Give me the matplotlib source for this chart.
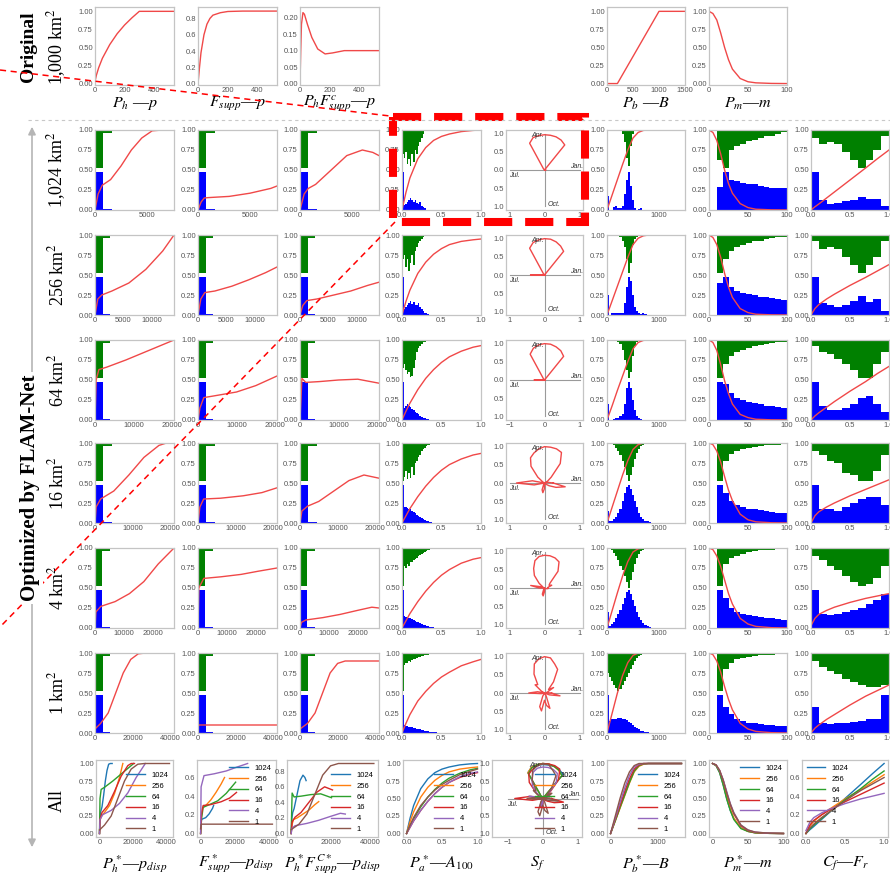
import numpy as np
import matplotlib.pyplot as plt
from matplotlib.patches import Rectangle
from matplotlib.ticker import FormatStrFormatter

plt.rcParams['mathtext.fontset'] = 'stix'
plt.rcParams['font.family'] = 'Liberation Sans'

W, H = 890, 875
fig = plt.figure(figsize=(W / 100, H / 100), dpi=100)

# ---------------- data ----------------
SCALES = ['1024', '256', '64', '16', '4', '1']
ROW_LABELS = ['1,024 km$^2$', '256 km$^2$', '64 km$^2$', '16 km$^2$', '4 km$^2$', '1 km$^2$']

# original functions (1,000 km2)
O_PH_X = [0, 10, 25, 50, 100, 150, 200, 250, 300, 535]
O_PH_Y = [0.03, 0.12, 0.22, 0.35, 0.54, 0.69, 0.81, 0.91, 1.0, 1.0]
O_FS_X = [0, 10, 20, 40, 60, 80, 100, 150, 200, 300, 530]
O_FS_Y = [0, 0.2, 0.38, 0.6, 0.73, 0.8, 0.84, 0.87, 0.885, 0.89, 0.89]
O_PF_X = [0, 5, 10, 20, 30, 50, 80, 120, 170, 220, 300, 535]
O_PF_Y = [0, 0.1, 0.18, 0.215, 0.21, 0.18, 0.14, 0.105, 0.09, 0.093, 0.1, 0.1]
O_PB_X = [0, 200, 1000, 1500]
O_PB_Y = [0, 0, 1.0, 1.0]
O_PM_Y = [1.0, 0.97, 0.88, 0.7, 0.5, 0.33, 0.2, 0.07, 0.025, 0.01, 0.002, 0]

# p_disp panels (columns 0-2)
PD_XMAX = [7600, 14000, 20500, 21000, 27500, 42000]
PD_TICKS = [[0, 5000], [0, 5000, 10000], [0, 10000, 20000], [0, 10000, 20000],
            [0, 10000, 20000], [0, 20000, 40000]]
PD_BIN = [800, 1350, 2000, 2200, 2600, 4000]
PD_BLUE = [0.47, 0.015, 0.004, 0, 0, 0, 0, 0, 0, 0]
PD_GREEN = [0.47, 0.035, 0, 0.008, 0, 0, 0.015, 0, 0, 0.01]

PH_X = [[0, 300, 700, 1500, 2500, 3500, 4500, 5500, 6500, 7600],
        [0, 500, 1200, 3000, 6000, 9000, 12000, 14000],
        [0, 300, 1000, 3000, 8000, 14000, 20500],
        [0, 300, 1500, 5000, 9000, 13000, 17000, 19000, 21000],
        [0, 300, 2000, 7000, 12000, 17000, 22000, 27500],
        [0, 3000, 7000, 11000, 15000, 19000, 23000, 27000, 42000]]
PH_Y = [[0, 0.2, 0.31, 0.38, 0.55, 0.75, 0.9, 0.99, 1.0, 1.0],
        [0, 0.2, 0.25, 0.3, 0.4, 0.57, 0.8, 1.0],
        [0, 0.5, 0.63, 0.66, 0.75, 0.87, 1.0],
        [0, 0.2, 0.3, 0.4, 0.6, 0.82, 0.97, 1.0, 1.0],
        [0, 0.2, 0.27, 0.33, 0.43, 0.58, 0.8, 1.0],
        [0.05, 0.12, 0.25, 0.5, 0.75, 0.92, 0.99, 1.0, 1.0]]
FS_X = [[0, 300, 600, 1000, 3000, 5000, 7000, 7600],
        [0, 500, 1200, 3000, 6000, 9000, 12000, 14000],
        [0, 500, 1500, 4000, 10000, 15000, 20500],
        [0, 500, 1500, 6000, 12000, 17000, 21000],
        [0, 300, 2000, 8000, 15000, 21000, 27500],
        [0, 300, 42000]]
FS_Y = [[0, 0.1, 0.15, 0.155, 0.17, 0.21, 0.27, 0.3],
        [0, 0.2, 0.28, 0.3, 0.36, 0.44, 0.53, 0.6],
        [0, 0.15, 0.28, 0.3, 0.35, 0.43, 0.55],
        [0, 0.2, 0.3, 0.31, 0.34, 0.38, 0.44],
        [0, 0.5, 0.62, 0.64, 0.67, 0.71, 0.75],
        [0.05, 0.1, 0.1]]
PF_X = [[0, 400, 800, 1500, 3000, 4500, 6000, 7000, 7600],
        [0, 500, 1200, 3000, 6000, 9000, 12000, 14000],
        [0, 500, 1500, 5000, 10000, 15000, 20500],
        [0, 500, 2000, 5000, 9000, 13000, 17000, 19000, 21000],
        [0, 500, 2000, 8000, 14000, 20000, 25000, 27500],
        [0, 4000, 8000, 12000, 16000, 20000, 24000, 42000]]
PF_Y = [[0, 0.2, 0.27, 0.32, 0.5, 0.68, 0.75, 0.72, 0.68],
        [0, 0.12, 0.18, 0.2, 0.25, 0.3, 0.37, 0.41],
        [0, 0.52, 0.47, 0.48, 0.5, 0.51, 0.46],
        [0, 0.15, 0.21, 0.27, 0.4, 0.53, 0.6, 0.58, 0.56],
        [0, 0.07, 0.1, 0.13, 0.17, 0.22, 0.26, 0.25],
        [0.05, 0.12, 0.25, 0.5, 0.75, 0.87, 0.9, 0.9]]

# P_a - A100 (column 3)
PA_X = [0, 0.05, 0.1, 0.2, 0.3, 0.4, 0.5, 0.6, 0.75, 0.9, 1.0]
PA_Y = [[0, 0.22, 0.4, 0.64, 0.78, 0.87, 0.92, 0.95, 0.98, 0.995, 1.0],
        [0, 0.17, 0.31, 0.52, 0.66, 0.76, 0.83, 0.88, 0.92, 0.94, 0.95],
        [0, 0.11, 0.21, 0.38, 0.52, 0.63, 0.72, 0.79, 0.86, 0.91, 0.93],
        [0, 0.09, 0.18, 0.33, 0.46, 0.57, 0.66, 0.73, 0.8, 0.85, 0.87],
        [0, 0.09, 0.18, 0.33, 0.46, 0.57, 0.66, 0.73, 0.81, 0.86, 0.88],
        [0, 0.12, 0.23, 0.4, 0.52, 0.62, 0.7, 0.76, 0.84, 0.89, 0.92]]
PA_BIN = 0.02
PA_BLUE = [[0.47, 0.06, 0.08, 0.1, 0.12, 0.15, 0.13, 0.1, 0.12, 0.09, 0.07, 0.1, 0.05, 0.04, 0.03],
           [0.47, 0.08, 0.1, 0.13, 0.15, 0.17, 0.14, 0.16, 0.12, 0.13, 0.15, 0.1, 0.08, 0.05, 0.03,
            0.02, 0.01],
           [0.47, 0.15, 0.17, 0.2, 0.18, 0.16, 0.14, 0.12, 0.1, 0.09, 0.07, 0.05, 0.04, 0.03, 0.02,
            0.015, 0.01],
           [0.47, 0.2, 0.2, 0.19, 0.18, 0.17, 0.15, 0.14, 0.12, 0.1, 0.09, 0.07, 0.06, 0.05, 0.04,
            0.03, 0.02, 0.015, 0.01, 0.005, 0.003, 0.002],
           [0.47, 0.15, 0.14, 0.13, 0.13, 0.12, 0.11, 0.1, 0.09, 0.08, 0.07, 0.06, 0.05, 0.04, 0.035,
            0.03, 0.02, 0.015, 0.01, 0.008, 0.005, 0.003, 0.002, 0.001],
           [0.47, 0.1, 0.09, 0.085, 0.08, 0.075, 0.07, 0.065, 0.06, 0.055, 0.05, 0.045, 0.04, 0.035,
            0.03, 0.025, 0.02, 0.018, 0.015, 0.012, 0.01, 0.008, 0.006, 0.005, 0.004, 0.003, 0.002]]
PA_GREEN = [[0.3, 0.35, 0.28, 0.42, 0.36, 0.45, 0.3, 0.4, 0.25, 0.3, 0.2, 0.15, 0.1, 0.05],
            [0.3, 0.25, 0.4, 0.3, 0.45, 0.35, 0.25, 0.38, 0.2, 0.15, 0.1, 0.08, 0.05, 0.03],
            [0.35, 0.3, 0.38, 0.42, 0.4, 0.46, 0.45, 0.35, 0.25, 0.15, 0.1, 0.08, 0.05, 0.03, 0.02],
            [0.47, 0.42, 0.35, 0.45, 0.38, 0.44, 0.3, 0.4, 0.25, 0.22, 0.18, 0.15, 0.1, 0.08, 0.06,
             0.04, 0.03, 0.02, 0.01],
            [0.47, 0.22, 0.25, 0.2, 0.22, 0.18, 0.17, 0.15, 0.14, 0.12, 0.1, 0.09, 0.07, 0.06, 0.05,
             0.04, 0.03, 0.02, 0.01, 0.005],
            [0.47, 0.15, 0.12, 0.13, 0.1, 0.11, 0.09, 0.08, 0.07, 0.06, 0.05, 0.045, 0.04, 0.035,
             0.03, 0.025, 0.02, 0.015, 0.01, 0.008, 0.006, 0.004, 0.003, 0.002]]

# S_f seasonality: radius every 10 degrees (Jan = 0 deg, Apr = 90 deg, counter-clockwise)
SF_R = [[0.03, 0, 0, 0, 0, 0.9, 0.95, 0.97, 0.97, 0.97, 0.96, 0.95, 0.85, 0.05, 0, 0, 0, 0,
         0, 0, 0, 0, 0, 0, 0, 0, 0, 0, 0, 0, 0, 0, 0, 0, 0, 0],
        [0.02, 0, 0, 0, 0, 0.85, 0.92, 0.97, 1.0, 1.0, 0.98, 0.95, 0.85, 0.05, 0, 0, 0, 0.05,
         0.4, 0.05, 0, 0, 0, 0, 0, 0, 0, 0, 0, 0, 0, 0, 0, 0, 0, 0],
        [0.02, 0, 0, 0, 0, 0.85, 0.93, 0.97, 1.0, 1.0, 0.98, 0.93, 0.82, 0.05, 0, 0, 0, 0.05,
         0.3, 0.05, 0, 0, 0, 0, 0, 0, 0, 0, 0, 0, 0, 0, 0, 0, 0, 0],
        [0.25, 0.1, 0, 0.1, 0.25, 0.7, 0.97, 1.0, 1.0, 1.0, 0.95, 0.88, 0.8, 0.6, 0.25, 0.05, 0, 0.35,
         0.8, 0.3, 0, 0, 0, 0, 0.05, 0.2, 0.27, 0.15, 0, 0, 0, 0, 0.05, 0.15, 0.35, 0.6],
        [0.1, 0.1, 0.22, 0.15, 0.2, 0.6, 0.83, 0.88, 0.9, 0.9, 0.88, 0.8, 0.62, 0.45, 0.2, 0.05, 0.1,
         0.4, 0.15, 0, 0, 0, 0, 0, 0.05, 0.18, 0.22, 0.1, 0, 0, 0, 0, 0, 0, 0.05, 0.1],
        [0.2, 0.05, 0.1, 0.3, 0.15, 0.4, 0.75, 0.85, 0.98, 1.0, 0.95, 0.85, 0.6, 0.3, 0.35, 0.1, 0,
         0.2, 0.45, 0.1, 0, 0, 0, 0, 0.1, 0.4, 0.5, 0.2, 0.35, 0.45, 0.1, 0, 0, 0, 0.15, 0.45]]

# P_b - B (column 5)
PB_X = [0, 100, 200, 300, 400, 500, 600, 700, 800, 1500]
PB_Y = [[0, 0.19, 0.38, 0.57, 0.75, 0.9, 0.97, 0.995, 1.0, 1.0],
        [0, 0.18, 0.36, 0.54, 0.72, 0.88, 0.96, 0.99, 1.0, 1.0],
        [0, 0.18, 0.37, 0.55, 0.73, 0.89, 0.97, 0.995, 1.0, 1.0],
        [0, 0.2, 0.4, 0.6, 0.78, 0.92, 0.98, 1.0, 1.0, 1.0],
        [0, 0.22, 0.44, 0.65, 0.83, 0.95, 0.99, 1.0, 1.0, 1.0],
        [0, 0.25, 0.5, 0.72, 0.88, 0.97, 1.0, 1.0, 1.0, 1.0]]
PB_BIN = 40
PB_BLUE = [[0.18, 0, 0, 0.04, 0.05, 0.03, 0.02, 0.05, 0.2, 0.38, 0.47, 0.3, 0.12, 0.03, 0, 0.01, 0.02],
           [0.25, 0, 0.02, 0.03, 0.02, 0.03, 0.02, 0.03, 0.15, 0.35, 0.47, 0.42, 0.25, 0.1, 0.05, 0.02,
            0.01, 0.02, 0.01],
           [0.2, 0, 0, 0.01, 0.02, 0.03, 0.05, 0.08, 0.2, 0.4, 0.47, 0.4, 0.25, 0.12, 0.05, 0.02, 0.01],
           [0.15, 0.02, 0.03, 0.05, 0.08, 0.12, 0.18, 0.27, 0.38, 0.45, 0.47, 0.42, 0.35, 0.27, 0.2, 0.13,
            0.08, 0.05, 0.03, 0.02, 0.01, 0.005],
           [0.2, 0.03, 0.05, 0.08, 0.12, 0.17, 0.23, 0.3, 0.38, 0.45, 0.47, 0.42, 0.35, 0.27, 0.2, 0.14,
            0.1, 0.06, 0.04, 0.02, 0.01],
           [0.47, 0.15, 0.17, 0.18, 0.18, 0.19, 0.19, 0.18, 0.17, 0.16, 0.14, 0.12, 0.1, 0.08, 0.06, 0.05,
            0.03, 0.02, 0.015, 0.01, 0.005]]
PB_GREEN = [[0, 0, 0, 0, 0, 0, 0, 0.05, 0.15, 0.35, 0.45, 0.2, 0.05],
            [0, 0, 0, 0, 0, 0, 0.03, 0.08, 0.15, 0.3, 0.48, 0.35, 0.12, 0.05, 0.02],
            [0, 0, 0, 0, 0, 0.02, 0.05, 0.12, 0.25, 0.38, 0.47, 0.4, 0.2, 0.08, 0.03, 0.01],
            [0, 0, 0.01, 0.03, 0.06, 0.1, 0.15, 0.22, 0.3, 0.4, 0.47, 0.4, 0.3, 0.2, 0.12, 0.07, 0.04,
             0.02, 0.01],
            [0, 0.01, 0.03, 0.06, 0.1, 0.15, 0.22, 0.28, 0.35, 0.42, 0.5, 0.4, 0.3, 0.2, 0.12, 0.07,
             0.04, 0.02, 0.01],
            [0.25, 0.3, 0.35, 0.4, 0.44, 0.47, 0.45, 0.4, 0.35, 0.3, 0.25, 0.2, 0.15, 0.1, 0.06, 0.04,
             0.02, 0.01]]

# P_m - m (column 6)
PM_X = [0, 5, 10, 15, 20, 25, 30, 40, 50, 60, 80, 100]
PM_Y = [[1.0, 0.97, 0.87, 0.7, 0.5, 0.33, 0.21, 0.08, 0.03, 0.01, 0.002, 0],
        [1.0, 0.97, 0.88, 0.72, 0.52, 0.35, 0.22, 0.08, 0.03, 0.01, 0.002, 0],
        [1.0, 0.97, 0.87, 0.69, 0.49, 0.33, 0.2, 0.07, 0.03, 0.01, 0.002, 0],
        [1.0, 0.98, 0.9, 0.76, 0.58, 0.41, 0.28, 0.11, 0.04, 0.015, 0.003, 0],
        [1.0, 0.98, 0.9, 0.77, 0.6, 0.43, 0.3, 0.12, 0.05, 0.02, 0.004, 0],
        [1.0, 0.98, 0.9, 0.76, 0.58, 0.42, 0.29, 0.12, 0.05, 0.02, 0.004, 0]]
PM_START, PM_BIN = 10, 7.5
PM_BLUE = [[0.29, 0.47, 0.38, 0.36, 0.34, 0.33, 0.32, 0.3, 0.29, 0.28, 0.28, 0.27],
           [0.4, 0.47, 0.35, 0.3, 0.28, 0.26, 0.25, 0.23, 0.22, 0.21, 0.2, 0.19],
           [0.47, 0.45, 0.34, 0.28, 0.25, 0.23, 0.21, 0.2, 0.18, 0.17, 0.16, 0.15],
           [0.47, 0.38, 0.27, 0.22, 0.2, 0.18, 0.17, 0.16, 0.15, 0.14, 0.13, 0.12],
           [0.47, 0.37, 0.25, 0.2, 0.18, 0.16, 0.15, 0.14, 0.13, 0.12, 0.11, 0.1],
           [0.47, 0.33, 0.24, 0.18, 0.15, 0.13, 0.12, 0.11, 0.1, 0.1, 0.09, 0.09]]
PM_GREEN = [[0.38, 0.47, 0.25, 0.2, 0.17, 0.14, 0.12, 0.1, 0.08, 0.07, 0.05, 0.03],
            [0.47, 0.3, 0.2, 0.15, 0.12, 0.1, 0.08, 0.07, 0.05, 0.04, 0.03, 0.02],
            [0.47, 0.3, 0.2, 0.15, 0.12, 0.1, 0.08, 0.06, 0.05, 0.04, 0.03, 0.02],
            [0.47, 0.22, 0.14, 0.1, 0.08, 0.06, 0.05, 0.04, 0.03, 0.02, 0.02, 0.01],
            [0.47, 0.2, 0.13, 0.1, 0.07, 0.05, 0.04, 0.03, 0.02, 0.02, 0.01, 0.01],
            [0.47, 0.2, 0.13, 0.08, 0.06, 0.05, 0.04, 0.03, 0.02, 0.02, 0.01, 0.01]]

# C_f - F_r (column 7)
CF_X = [0, 0.05, 0.1, 0.2, 0.3, 0.5, 0.7, 0.85, 1.0]
CF_Y = [[0, 0.04, 0.075, 0.15, 0.225, 0.375, 0.525, 0.64, 0.75],
        [0, 0.08, 0.13, 0.2, 0.26, 0.37, 0.47, 0.55, 0.63],
        [0, 0.05, 0.09, 0.16, 0.23, 0.36, 0.48, 0.58, 0.67],
        [0, 0.09, 0.14, 0.2, 0.25, 0.34, 0.42, 0.48, 0.54],
        [0.03, 0.12, 0.17, 0.22, 0.26, 0.32, 0.37, 0.4, 0.43],
        [0, 0.06, 0.1, 0.17, 0.23, 0.35, 0.46, 0.53, 0.6]]
CF_BIN = 0.1
CF_BLUE = [[0.47, 0.13, 0.08, 0.09, 0.11, 0.12, 0.16, 0.14, 0.14, 0.05],
           [0.47, 0.15, 0.13, 0.1, 0.13, 0.17, 0.24, 0.16, 0.2, 0.05],
           [0.47, 0.17, 0.13, 0.12, 0.15, 0.2, 0.27, 0.3, 0.2, 0.1],
           [0.47, 0.17, 0.17, 0.15, 0.2, 0.25, 0.3, 0.32, 0.33, 0.23],
           [0.47, 0.18, 0.16, 0.18, 0.2, 0.22, 0.25, 0.3, 0.35, 0.43],
           [0.33, 0.12, 0.11, 0.12, 0.13, 0.14, 0.15, 0.17, 0.18, 0.47]]
CF_GREEN = [[0.1, 0.18, 0.15, 0.18, 0.28, 0.38, 0.47, 0.38, 0.25, 0.08],
            [0.07, 0.18, 0.15, 0.18, 0.28, 0.38, 0.47, 0.38, 0.28, 0.07],
            [0.07, 0.15, 0.18, 0.24, 0.3, 0.38, 0.47, 0.47, 0.3, 0.15],
            [0.1, 0.15, 0.22, 0.25, 0.38, 0.4, 0.47, 0.47, 0.35, 0.15],
            [0.1, 0.15, 0.22, 0.27, 0.35, 0.42, 0.48, 0.45, 0.37, 0.22],
            [0.1, 0.17, 0.22, 0.26, 0.32, 0.36, 0.4, 0.43, 0.43, 0.4]]

# ---------------- layout / style ----------------
RED = '#f04848'
BLUE = '#0000ff'
GREEN = '#008000'
TAB = plt.cm.tab10.colors[:6]
Y4 = [0, 0.25, 0.5, 0.75, 1.0]

COL_X = [(95, 174), (198, 277), (300, 379), (402, 481), (506, 583), (607, 685), (709, 787), (811, 889)]
ALL_X = [(96, 173), (197, 276), (287, 378), (403, 481), (492, 582), (607, 685), (709, 787), (802, 888)]
ROW_Y = [(130, 210), (235, 315), (340, 420), (443, 523), (548, 628), (653, 733)]
ORIG_Y = (7, 85)
ALL_Y = (760, 837)


def new_ax(xr, yr):
    ax = fig.add_axes([xr[0] / W, 1 - yr[1] / H, (xr[1] - xr[0]) / W, (yr[1] - yr[0]) / H])
    for s in ax.spines.values():
        s.set_color('#c4c4c4')
        s.set_linewidth(0.9)
    ax.tick_params(length=0, labelsize=5.5, labelcolor='#555555', pad=1.5)
    return ax


def hist(ax, start, width, blue, green):
    ax.stairs(blue, start + width * np.arange(len(blue) + 1), baseline=0,
              fill=True, color=BLUE, lw=0)
    ax.stairs(1 - np.array(green), start + width * np.arange(len(green) + 1),
              baseline=1, fill=True, color=GREEN, lw=0)


def yfmt(ax, ticks, fmt):
    ax.set_yticks(ticks)
    ax.yaxis.set_major_formatter(FormatStrFormatter(fmt))


def sf_xy(r):
    a = np.deg2rad(np.arange(0, 370, 10))
    r = np.append(r, r[0])
    return r * np.cos(a), r * np.sin(a)


def sf_frame(ax, minus):
    ax.plot([-1, 1], [0, 0], color='#9a9a9a', lw=0.8, zorder=1)
    ax.plot([0, 0], [-1, 1], color='#9a9a9a', lw=0.8, zorder=1)
    kw = dict(fontsize=5, style='italic', color='#333333', zorder=5)
    ax.text(-0.38, 0.9, 'Apr.', **kw)
    ax.text(0.72, 0.06, 'Jan.', **kw)
    ax.text(-1.02, -0.2, 'Jul.', **kw)
    ax.text(0.08, -1.0, 'Oct.', **kw)
    ax.set_xlim(-1.1, 1.1)
    ax.set_ylim(-1.1, 1.1)
    ax.set_xticks([-1, 0, 1])
    ax.set_xticklabels(['\u22121' if minus else '1', '0', '1'])
    ax.set_yticks([-1, -0.5, 0, 0.5, 1])
    ax.set_yticklabels(['1.0', '0.5', '0.0', '0.5', '1.0'])


# ---------------- original row ----------------
ax = new_ax(COL_X[0], ORIG_Y)
ax.plot(O_PH_X, O_PH_Y, color=RED, lw=1)
ax.set_xlim(0, 535); ax.set_ylim(-0.02, 1.06)
ax.set_xticks([0, 200, 400]); yfmt(ax, Y4, '%.2f')

ax = new_ax(COL_X[1], ORIG_Y)
ax.plot(O_FS_X, O_FS_Y, color=RED, lw=1)
ax.set_xlim(0, 530); ax.set_ylim(-0.015, 0.94)
ax.set_xticks([0, 200, 400]); yfmt(ax, [0, 0.2, 0.4, 0.6, 0.8], '%.1f')

ax = new_ax(COL_X[2], ORIG_Y)
ax.plot(O_PF_X, O_PF_Y, color=RED, lw=1)
ax.set_xlim(0, 535); ax.set_ylim(-0.004, 0.232)
ax.set_xticks([0, 200, 400]); yfmt(ax, [0, 0.05, 0.1, 0.15, 0.2], '%.2f')

ax = new_ax(COL_X[5], ORIG_Y)
ax.plot(O_PB_X, O_PB_Y, color=RED, lw=1)
ax.set_xlim(0, 1500); ax.set_ylim(-0.02, 1.06)
ax.set_xticks([0, 500, 1000, 1500]); yfmt(ax, Y4, '%.2f')

ax = new_ax(COL_X[6], ORIG_Y)
ax.plot(PM_X, O_PM_Y, color=RED, lw=1)
ax.set_xlim(0, 100); ax.set_ylim(-0.02, 1.06)
ax.set_xticks([0, 50, 100]); yfmt(ax, Y4, '%.2f')

# ---------------- optimized rows ----------------
for i in range(6):
    yr = ROW_Y[i]
    for c, (xs, ys) in enumerate([(PH_X, PH_Y), (FS_X, FS_Y), (PF_X, PF_Y)]):
        ax = new_ax(COL_X[c], yr)
        hist(ax, 0, PD_BIN[i], PD_BLUE, PD_GREEN)
        ax.plot(xs[i], ys[i], color=RED, lw=1)
        ax.set_xlim(0, PD_XMAX[i]); ax.set_ylim(0, 1)
        ax.set_xticks(PD_TICKS[i]); yfmt(ax, Y4, '%.2f')

    ax = new_ax(COL_X[3], yr)
    hist(ax, 0, PA_BIN, PA_BLUE[i], PA_GREEN[i])
    ax.plot(PA_X, PA_Y[i], color=RED, lw=1)
    ax.set_xlim(0, 1); ax.set_ylim(0, 1)
    ax.set_xticks([0, 0.5, 1.0]); ax.xaxis.set_major_formatter(FormatStrFormatter('%.1f'))
    yfmt(ax, Y4, '%.2f')

    ax = new_ax(COL_X[4], yr)
    sf_frame(ax, i == 2)
    ax.plot(*sf_xy(SF_R[i]), color=RED, lw=1, zorder=3)

    ax = new_ax(COL_X[5], yr)
    hist(ax, 0, PB_BIN, PB_BLUE[i], PB_GREEN[i])
    ax.plot(PB_X, PB_Y[i], color=RED, lw=1)
    ax.set_xlim(0, 1500); ax.set_ylim(0, 1)
    ax.set_xticks([0, 1000]); yfmt(ax, Y4, '%.2f')

    ax = new_ax(COL_X[6], yr)
    hist(ax, PM_START, PM_BIN, PM_BLUE[i], PM_GREEN[i])
    ax.plot(PM_X, PM_Y[i], color=RED, lw=1)
    ax.set_xlim(0, 100); ax.set_ylim(0, 1)
    ax.set_xticks([0, 50, 100]); yfmt(ax, Y4, '%.2f')

    ax = new_ax(COL_X[7], yr)
    hist(ax, 0, CF_BIN, CF_BLUE[i], CF_GREEN[i])
    ax.plot(CF_X, CF_Y[i], color=RED, lw=1)
    ax.set_xlim(0, 1); ax.set_ylim(0, 1)
    ax.set_xticks([0, 0.5, 1.0]); ax.xaxis.set_major_formatter(FormatStrFormatter('%.1f'))
    yfmt(ax, Y4, '%.2f')

# ---------------- "All" row ----------------
leg_kw = dict(fontsize=5.5, frameon=False, handlelength=2.4, handletextpad=0.9,
              labelspacing=0.45, borderaxespad=0.2)


def all_lines(ax, xs, ys):
    for k in range(6):
        x = xs[k] if isinstance(xs[0], list) else xs
        ax.plot(x, ys[k], color=TAB[k], lw=1, label=SCALES[k])


panels = [(PH_X, PH_Y), (FS_X, FS_Y), (PF_X, PF_Y)]
yt_all = [(Y4, '%.2f'), ([0, 0.2, 0.4, 0.6], '%.1f'), ([0, 0.2, 0.4, 0.6, 0.8], '%.1f')]
leg_loc = [('center right', (1, 0.45)), ('upper right', (1, 1)), ('center right', (1, 0.45))]
for c in range(3):
    ax = new_ax(ALL_X[c], ALL_Y)
    all_lines(ax, *panels[c])
    ax.set_xticks([0, 20000, 40000]); yfmt(ax, *yt_all[c])
    ax.legend(loc=leg_loc[c][0], bbox_to_anchor=leg_loc[c][1], **leg_kw)

ax = new_ax(ALL_X[3], ALL_Y)
all_lines(ax, PA_X, PA_Y)
ax.set_xticks([0, 0.5, 1.0]); ax.xaxis.set_major_formatter(FormatStrFormatter('%.1f'))
yfmt(ax, Y4, '%.2f')
ax.legend(loc='center right', bbox_to_anchor=(1, 0.45), **leg_kw)

ax = new_ax(ALL_X[4], ALL_Y)
sf_frame(ax, True)
for k in range(6):
    ax.plot(*sf_xy(SF_R[k]), color=TAB[k], lw=1, label=SCALES[k], zorder=3)
ax.set_xlim(-1.45, 1.12)
ax.legend(loc='center right', bbox_to_anchor=(1, 0.45), **leg_kw)

ax = new_ax(ALL_X[5], ALL_Y)
all_lines(ax, PB_X, PB_Y)
ax.set_xticks([0, 1000]); yfmt(ax, Y4, '%.2f')
ax.legend(loc='center right', bbox_to_anchor=(1, 0.45), **leg_kw)

ax = new_ax(ALL_X[6], ALL_Y)
all_lines(ax, PM_X, PM_Y)
ax.set_xticks([0, 50, 100]); yfmt(ax, Y4, '%.2f')
ax.legend(loc='upper right', **leg_kw)

ax = new_ax(ALL_X[7], ALL_Y)
all_lines(ax, CF_X, CF_Y)
ax.set_xticks([0, 0.5, 1.0]); ax.xaxis.set_major_formatter(FormatStrFormatter('%.1f'))
yfmt(ax, [0, 0.2, 0.4, 0.6], '%.1f')
ax.legend(loc='upper left', **leg_kw)

# ---------------- labels and annotations ----------------
serif = 'Liberation Serif'
top_labels = {0: r'$P_h$ —$p$', 1: r'$F_{supp}$—$p$', 2: r'$P_hF_{supp}^{c}$—$p$',
              5: r'$P_b$ —$B$', 6: r'$P_m$—$m$'}
for c, t in top_labels.items():
    fig.text((COL_X[c][0] + COL_X[c][1]) / 2 / W, 1 - 104 / H, t, ha='center', va='center',
             fontsize=11.5, family=serif)
bottom_labels = [r'$P_h^*$—$p_{disp}$', r'$F_{supp}^*$—$p_{disp}$',
                 r'$P_h^*F_{supp}^{C*}$—$p_{disp}$', r'$P_a^*$—$A_{100}$', r'$S_f$',
                 r'$P_b^*$—$B$', r'$P_m^*$—$m$', r'$C_f$—$F_r$']
for c, t in enumerate(bottom_labels):
    fig.text((ALL_X[c][0] + ALL_X[c][1]) / 2 / W, 1 - 864 / H, t, ha='center', va='center',
             fontsize=11.5, family=serif)

fig.text(29 / W, 1 - 47 / H, 'Original', rotation=90, ha='center', va='center',
         fontsize=14, fontweight='bold', family=serif)
fig.text(57 / W, 1 - 47 / H, '1,000 km$^2$', rotation=90, ha='center', va='center',
         fontsize=13, family=serif)
for i, lab in enumerate(ROW_LABELS):
    yc = (ROW_Y[i][0] + ROW_Y[i][1]) / 2
    fig.text(57 / W, 1 - yc / H, lab, rotation=90, ha='center', va='center',
             fontsize=13, family=serif)
fig.text(57 / W, 1 - 800 / H, 'All', rotation=90, ha='center', va='center',
         fontsize=13, family=serif)

ov = fig.add_axes([0, 0, 1, 1])
ov.set_xlim(0, W); ov.set_ylim(H, 0); ov.axis('off'); ov.set_zorder(10)
ov.plot([28, 890], [120, 120], color='#c8c8c8', lw=0.8, ls=(0, (3, 3)))
ov.annotate('', xy=(32, 124), xytext=(32, 850),
            arrowprops=dict(arrowstyle='<|-|>', color='#b5b5b5', lw=1.2, mutation_scale=11))
ov.text(30, 488, 'Optimized by FLAM-Net', rotation=90, ha='center', va='center',
        fontsize=15, fontweight='bold', family=serif,
        bbox=dict(facecolor='white', edgecolor='none', pad=2))
ov.add_patch(Rectangle((393, 117), 192, 105, fill=False, ec='red', lw=5.8, ls=(0, (3.5, 1.6))))
ov.plot([0, 390], [70, 116], color='red', lw=1.1, ls=(0, (4, 3)))
ov.plot([395, 0], [222, 627], color='red', lw=1.1, ls=(0, (4, 3)))

fig.savefig('out.png', dpi=100)
